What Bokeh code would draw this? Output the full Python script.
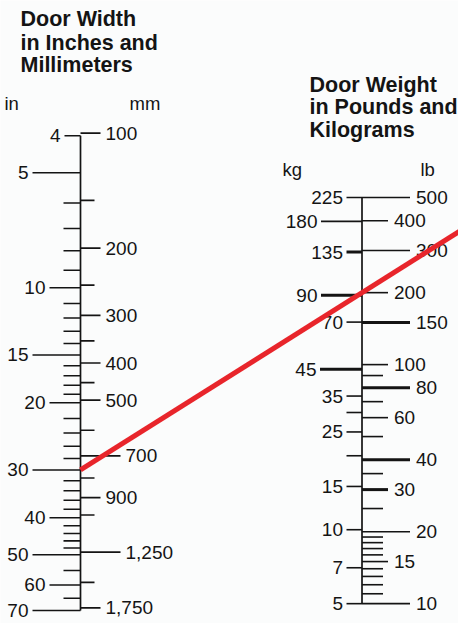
import math
from bokeh.plotting import figure
from bokeh.models import Range1d, LogScale, LinearScale
from bokeh.core.properties import value
from bokeh.embed import file_html
from bokeh.resources import INLINE

# ---------------- data ----------------
in_major = [4, 5, 10, 15, 20, 30, 40, 50, 60, 70]
in_minor = [6, 7, 8, 9, 11, 12, 13, 14, 16, 17, 18, 19, 22, 24, 26, 28,
            32, 34, 36, 38, 42, 44, 46, 48, 55, 65]
mm_major = [100, 200, 300, 400, 500, 700, 900, 1250, 1750]
mm_minor = [150, 250, 350, 450, 600, 800, 1000, 1500]
kg_major = [225, 180, 135, 90, 70, 45, 35, 25, 15, 10, 7, 5]
kg_minor = [30, 20]
lb_major = [500, 400, 300, 200, 150, 100, 80, 60, 40, 30, 20, 15, 10]
lb_minor = [90, 70, 50, 35, 25, 19, 18, 17, 16, 14, 13, 12, 11]
MM_PER_IN = 25.4

# selected example (red line)
sel_width_in = 30
sel_weight_lb = 200

# ---------------- styles / layout ----------------
W, H = 458, 623
K = 0.981
def cy(page_y):
    return page_y * K - 8

X_L = 80.0     # width axis
X_R = 361.5    # weight axis
FONT = value("Liberation Sans")
TXT = "#141414"
BG = "#fbfcfc"

in_len = {4: 16, 5: 48, 10: 31, 15: 48, 20: 31, 30: 48, 40: 31, 50: 48, 60: 31, 70: 48}
mm_len = {700: 40, 1250: 40}
kg_len = {180: 41, 90: 41, 45: 42}
lb_len_long = {500, 300, 150, 80, 40, 20, 10}
bold_lb = {150, 80, 40, 30}
bold_kg = {135, 90, 45}

def make_map(v1, y1, v2, y2):
    s = (y2 - y1) / (math.log10(v2) - math.log10(v1))
    top = math.log10(v1) - y1 / s
    return top, s

in_top, in_s = make_map(4, cy(146), 70, cy(630))
lb_top, lb_s = make_map(500, cy(209), 10, cy(623))
kg_top, kg_s = make_map(225, cy(209), 5, cy(623))

def rng(top, s):
    return Range1d(start=10 ** (top + H / s), end=10 ** top)

p = figure(width=W, height=H, output_backend="svg", toolbar_location=None,
           x_range=Range1d(0, W), y_range=rng(in_top, in_s), y_axis_type="log",
           x_axis_location=None, y_axis_location=None, min_border=0)
p.extra_y_ranges = {"lb": rng(lb_top, lb_s), "kg": rng(kg_top, kg_s),
                    "px": Range1d(start=H, end=0)}
p.extra_y_scales = {"lb": LogScale(), "kg": LogScale(), "px": LinearScale()}
p.grid.visible = False
p.outline_line_color = None
p.background_fill_color = BG
p.border_fill_color = BG

def fmt(v):
    return f"{v:,}"

# ---------------- width scale ----------------
p.segment(x0=[X_L], x1=[X_L], y0=[in_major[0]], y1=[in_major[-1]],
          line_color=TXT, line_width=1.7)
p.segment(x0=[X_L - in_len[v] for v in in_major], x1=X_L, y0=in_major, y1=in_major,
          line_color=TXT, line_width=1.6)
p.segment(x0=X_L - 17, x1=X_L, y0=in_minor, y1=in_minor, line_color=TXT, line_width=1.6)
mm_y = [v / MM_PER_IN for v in mm_major]
mm_y_minor = [v / MM_PER_IN for v in mm_minor]
p.segment(x0=X_L, x1=[X_L + mm_len.get(v, 20) for v in mm_major], y0=mm_y, y1=mm_y,
          line_color=TXT, line_width=1.6)
p.segment(x0=X_L, x1=X_L + 14, y0=mm_y_minor, y1=mm_y_minor, line_color=TXT, line_width=1.6)

p.text(x=[X_L - in_len[v] - 4 for v in in_major], y=in_major, text=[fmt(v) for v in in_major],
       text_align="right", text_baseline="middle", text_font=FONT,
       text_font_size="19px", text_color=TXT)
p.text(x=[X_L + mm_len.get(v, 20) + 5 for v in mm_major], y=mm_y, text=[fmt(v) for v in mm_major],
       text_align="left", text_baseline="middle", text_font=FONT,
       text_font_size="19px", text_color=TXT)

# ---------------- weight scale ----------------
p.segment(x0=[X_R], x1=[X_R], y0=[lb_major[0]], y1=[lb_major[-1]],
          line_color=TXT, line_width=1.7, y_range_name="lb")
kg_x0 = [X_R - kg_len.get(v, 15.5) for v in kg_major]
p.segment(x0=kg_x0, x1=X_R, y0=kg_major, y1=kg_major, line_color=TXT,
          line_width=[3 if v in bold_kg else 1.6 for v in kg_major], y_range_name="kg")
p.segment(x0=X_R - 15.5, x1=X_R, y0=kg_minor, y1=kg_minor, line_color=TXT,
          line_width=1.6, y_range_name="kg")
lb_x1 = [X_R + (48 if v in lb_len_long else 26) for v in lb_major]
p.segment(x0=X_R, x1=lb_x1, y0=lb_major, y1=lb_major, line_color=TXT,
          line_width=[3 if v in bold_lb else 1.6 for v in lb_major], y_range_name="lb")
p.segment(x0=X_R, x1=X_R + 21, y0=lb_minor, y1=lb_minor, line_color=TXT,
          line_width=1.6, y_range_name="lb")

p.text(x=[x - 3.5 for x in kg_x0], y=kg_major, text=[fmt(v) for v in kg_major],
       text_align="right", text_baseline="middle", text_font=FONT,
       text_font_size="19px", text_color=TXT, y_range_name="kg")
p.text(x=[x + 6 for x in lb_x1], y=lb_major, text=[fmt(v) for v in lb_major],
       text_align="left", text_baseline="middle", text_font=FONT,
       text_font_size="19px", text_color=TXT, y_range_name="lb")

# ---------------- headings ----------------
p.text(x=[20, 20, 20], y=[cy(27), cy(51), cy(74)],
       text=["Door Width", "in Inches and", "Millimeters"],
       text_align="left", text_baseline="alphabetic", text_font=FONT,
       text_font_style="bold", text_font_size="21.5px", text_color=TXT, y_range_name="px")
p.text(x=[309, 309, 309], y=[cy(94), cy(117), cy(140)],
       text=["Door Weight", "in Pounds and", "Kilograms"],
       text_align="left", text_baseline="alphabetic", text_font=FONT,
       text_font_style="bold", text_font_size="21.5px", text_color=TXT, y_range_name="px")
p.text(x=[4, 129, 282, 420], y=[cy(113), cy(113), cy(180), cy(180)],
       text=["in", "mm", "kg", "lb"],
       text_align="left", text_baseline="alphabetic", text_font=FONT,
       text_font_size="18.5px", text_color=TXT, y_range_name="px")

# ---------------- red example line ----------------
px_w = (math.log10(sel_width_in) - in_top) * in_s
px_r = (math.log10(sel_weight_lb) - lb_top) * lb_s
x_end = W + 10
px_end = px_w + (px_r - px_w) * (x_end - X_L) / (X_R - X_L)
p.line(x=[X_L, x_end], y=[px_w, px_end], line_color="#e8252b", line_width=5,
       y_range_name="px")

open("out.html", "w").write(file_html(p, INLINE))
